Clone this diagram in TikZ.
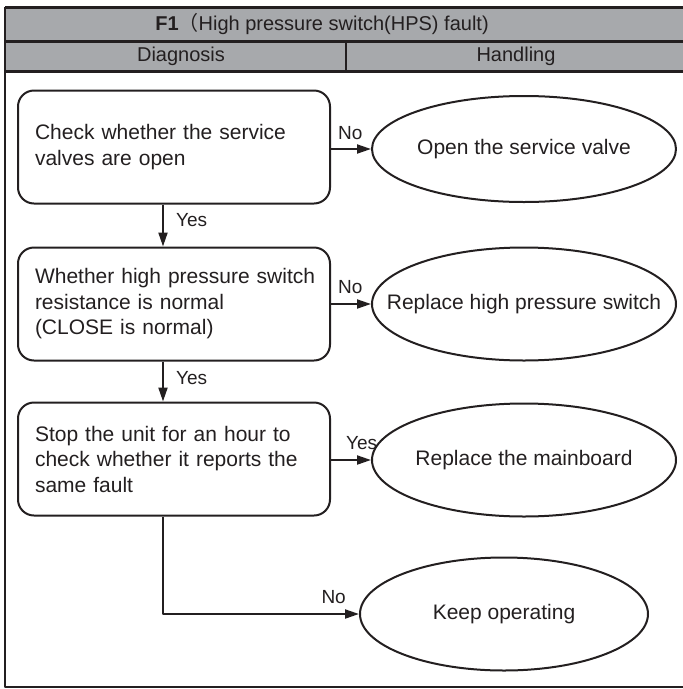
\documentclass[tikz,border=0pt]{standalone}
\usepackage{fontspec}
\setmainfont{Liberation Sans}
\newfontfamily\cjk{Noto Sans CJK SC}
\usetikzlibrary{shapes.geometric,arrows.meta}

\definecolor{entete}{RGB}{167,169,172}
\definecolor{encre}{RGB}{35,31,32}

\begin{document}
\begin{tikzpicture}[x=1pt,y=-1pt,color=encre,line join=round,font=\fontsize{21}{25.5}\selectfont]
    \useasboundingbox (0,0) rectangle (683,689);
    %%%%%%%%%%%%%%%%%%%%%%%%%%%%%%%%%%%%%% Tableau
    \fill[entete] (5,7)--(690,7)--(690,71)--(5,71)--cycle;

    \draw[line width=3pt] (5,7)--(690,7);
    \draw[line width=3pt] (5,41)--(690,41);
    \draw[line width=3pt] (5,71)--(690,71);
    \draw[line width=2.5pt] (346,41)--(346,71);
    \draw[line width=2.5pt] (5,7)--(5,687)--(690,687);

    \tikzstyle{titre}=[inner sep=0pt,font=\fontsize{20}{24}\selectfont]
    \node[titre] (t0) at (322,24) {\textbf{F1}{\cjk （}High pressure switch(HPS) fault)};
    \node[titre] (t1) at (181,56) {Diagnosis};
    \node[titre] (t2) at (516,56) {Handling};

    %%%%%%%%%%%%%%%%%%%%%%%%%%%%%%%%%%%%%% Diagnostic
    \tikzstyle{boite}=[draw,line width=2pt,rounded corners=16pt,align=left,text width=278pt,inner xsep=17pt,minimum height=113pt]
    \node[boite] (b1) at (174,147) {Check whether the service\\valves are open};
    \node[boite] (b2) at (174,304) {\mbox{Whether high pressure switch}\\resistance is normal\\(CLOSE is normal)};
    \node[boite] (b3) at (174,459) {Stop the unit for an hour to\\check whether it reports the\\same fault};

    %%%%%%%%%%%%%%%%%%%%%%%%%%%%%%%%%%%%%% Traitement
    \tikzstyle{bulle}=[draw,ellipse,line width=2pt,inner sep=0pt,minimum width=304pt,minimum height=113pt]
    \node[bulle,minimum height=106pt,label=center:{Open the service valve}] (e1) at (524,149) {};
    \node[bulle,label=center:{Replace high pressure switch}] (e2) at (524,304) {};
    \node[bulle,label=center:{Replace the mainboard}] (e3) at (524,460) {};
    \node[bulle,minimum width=288pt,label=center:{Keep operating}] (e4) at (504,614) {};

    %%%%%%%%%%%%%%%%%%%%%%%%%%%%%%%%%%%%%% Flèches
    \tikzstyle{fleche}=[-{Triangle[length=14pt,width=9pt]},line width=2pt]
    \draw[fleche] (b1.east |- e1.west)--(e1.west);
    \draw[fleche] (b2.east)--(e2.west);
    \draw[fleche] (b3.east |- e3.west)--(e3.west);
    \draw[fleche] ([xshift=-11pt]b1.south)--([xshift=-11pt]b2.north);
    \draw[fleche] ([xshift=-11pt]b2.south)--([xshift=-11pt]b3.north);
    \draw[fleche] ([xshift=-11pt]b3.south) |- (e4.west);

    \tikzstyle{etiq}=[inner sep=1pt,font=\fontsize{19}{19}\selectfont]
    \node[etiq,anchor=south west] (l1) at ([xshift=6pt,yshift=8pt]b1.east |- e1.west) {No};
    \node[etiq,anchor=south west] (l2) at ([xshift=6pt,yshift=9pt]b2.east) {No};
    \node[etiq,anchor=south west] (l3) at ([xshift=14pt,yshift=9pt]b3.east |- e3.west) {Yes};
    \node[etiq,anchor=south east] (l4) at ([xshift=-12pt,yshift=9pt]e4.west) {No};
    \node[etiq,anchor=north west] (l5) at ([xshift=1pt,yshift=-8pt]b1.south) {Yes};
    \node[etiq,anchor=north west] (l6) at ([xshift=1pt,yshift=-9pt]b2.south) {Yes};
\end{tikzpicture}
\end{document}
